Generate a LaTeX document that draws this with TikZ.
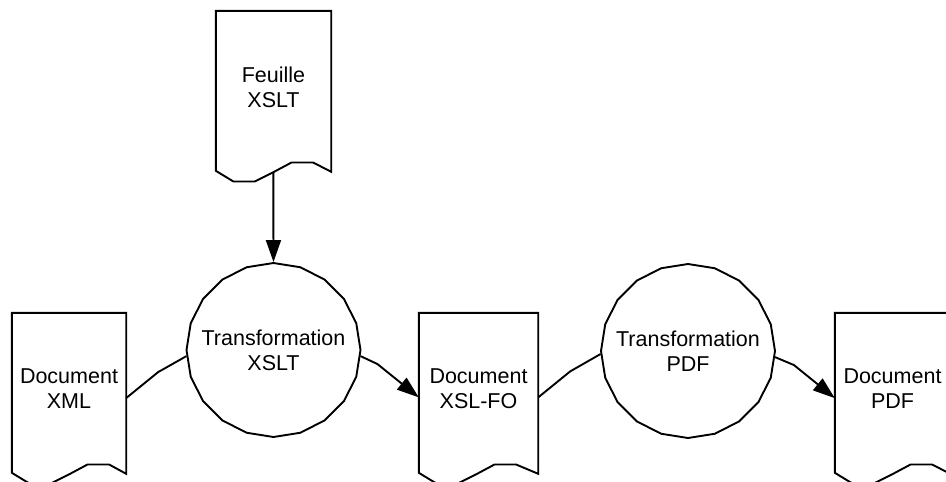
\documentclass[tikz,border=0pt]{standalone}
\usepackage{fontspec}
\setmainfont{Liberation Sans}
\usetikzlibrary{shapes.geometric,arrows.meta,calc}

\tikzset{
  outline/.style={line width=1.9pt, line join=miter},
  labelfont/.style={font=\fontsize{21.5}{25}\selectfont},
  docbox/.style={draw=none, minimum width=#1, minimum height=152pt,
    inner sep=0pt, align=center, labelfont},
  docbox/.default=115pt,
  procbox/.style={draw, outline, regular polygon, regular polygon sides=20,
    shape border rotate=9, minimum size=174pt, inner sep=0pt,
    align=center, labelfont},
  link/.style={outline},
  flow/.style={outline, -{Triangle[length=22pt,width=15pt]}},
}

\newcommand\docoutline[1]{%
  \draw[outline] (#1.north west) -- ++(0,160) -- ++(17.6,10.7) -- ++(21.4,0)
    -- ++(18,-9) -- ++(18.7,-10) -- ++(21.6,0)
    -- ($(#1.north east)+(0,161)$) -- (#1.north east) -- cycle;}
\newcommand\zw[1]{\makebox[0pt]{#1}}

\begin{document}
\begin{tikzpicture}[x=1pt,y=-1pt]
  \path[use as bounding box] (0,0) rectangle (946,482);

  % documents
  \node[docbox] (feuille) at (273.5,87) {Feuille\\XSLT};
  \node[docbox=114pt] (xml) at (69,389) {Document\\XML};
  \node[docbox=119pt] (xslfo) at (478.5,389) {Document\\XSL-FO};
  \node[docbox] (pdf) at (892.5,389) {Document\\PDF};
  \docoutline{feuille}
  \docoutline{xml}
  \docoutline{xslfo}
  \docoutline{pdf}

  % processes
  \node[procbox] (c1) at (273.5,350) {\zw{Transformation}\\\zw{XSLT}};
  \node[procbox] (c2) at (688,351) {\zw{Transformation}\\\zw{PDF}};

  % connectors
  \coordinate (fbot) at ($(feuille.north west)+(57.5,162)$);
  \draw[flow] (fbot) -- (c1.north);
  \draw[link] (xml.-9) -- ++(32,-26) -- (c1.184);
  \draw[flow] (c1.-4.5) -- ++(17,8) -- (xslfo.188.5);
  \draw[link] (xslfo.-8.5) -- ++(32,-26) -- (c2.182);
  \draw[flow] (c2.-4) -- ++(19,8) -- (pdf.189);
\end{tikzpicture}
\end{document}
